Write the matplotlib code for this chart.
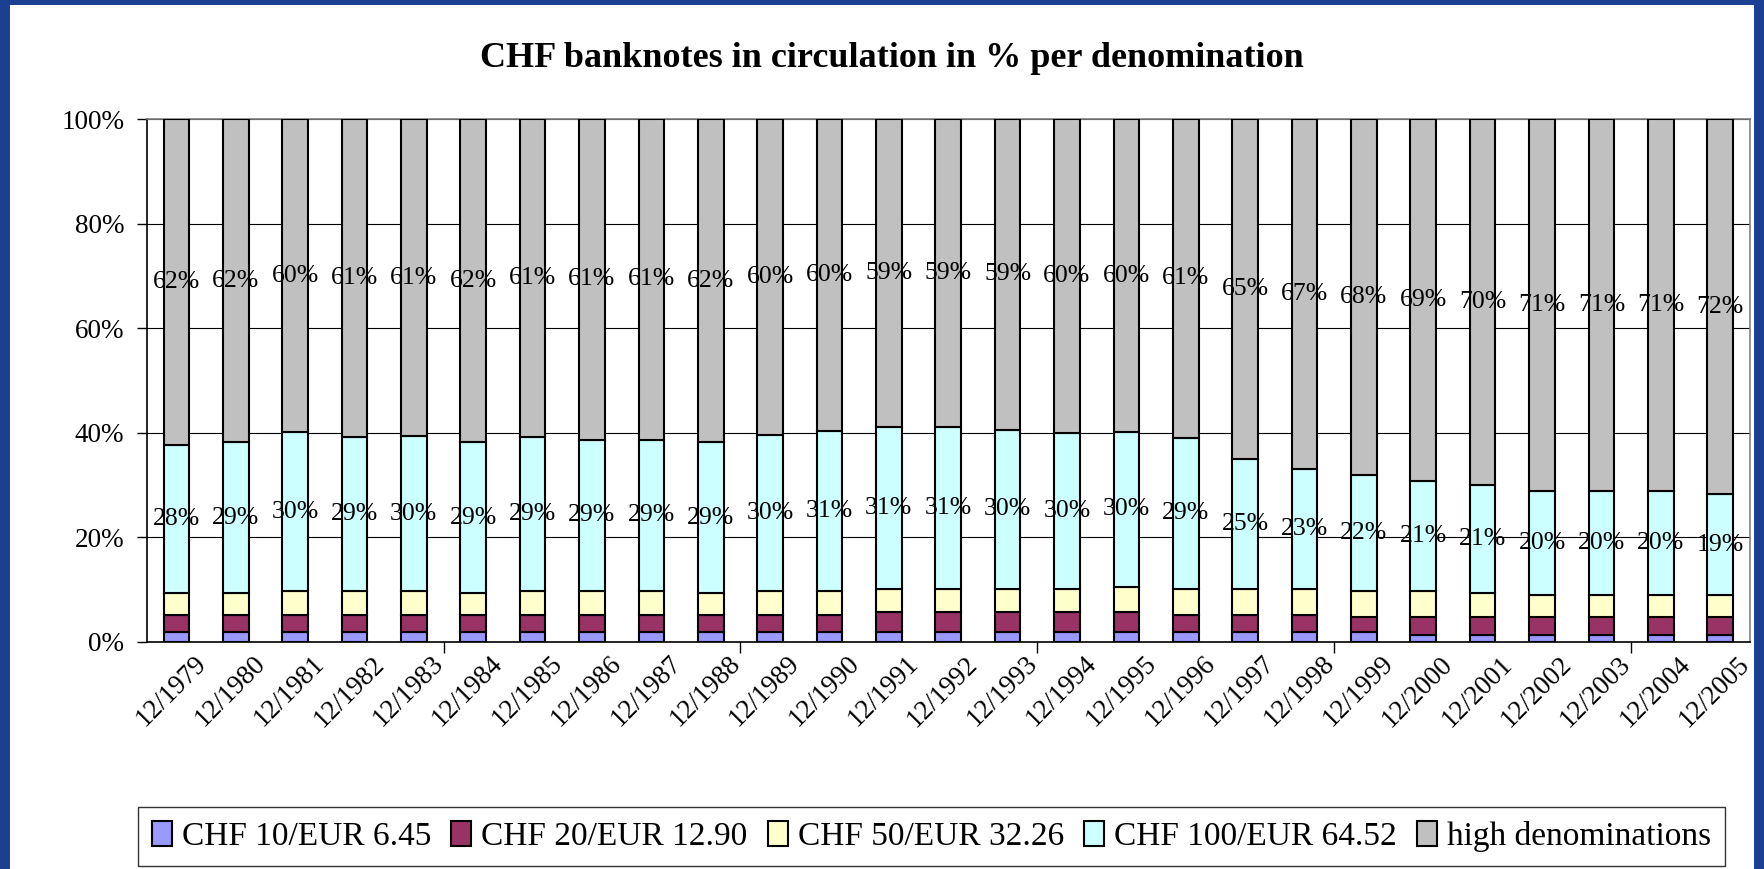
import numpy as np
import matplotlib
matplotlib.use('Agg')
import matplotlib.pyplot as plt
import matplotlib.transforms as mtransforms
from matplotlib.patches import Rectangle

plt.rcParams['font.family'] = ['Liberation Serif', 'DejaVu Serif']

# categories (end of year)
years = ['12/1979', '12/1980', '12/1981', '12/1982', '12/1983', '12/1984', '12/1985',
         '12/1986', '12/1987', '12/1988', '12/1989', '12/1990', '12/1991', '12/1992',
         '12/1993', '12/1994', '12/1995', '12/1996', '12/1997', '12/1998', '12/1999',
         '12/2000', '12/2001', '12/2002', '12/2003', '12/2004', '12/2005']

# share in % per denomination
chf10 = [1.8, 1.8, 1.8, 1.8, 1.8, 1.8, 1.8, 1.8, 1.8, 1.8, 1.8, 1.8, 1.8, 1.8,
         1.8, 1.8, 1.8, 1.8, 1.8, 1.8, 1.8, 1.3, 1.3, 1.3, 1.3, 1.3, 1.3]
chf20 = [3.25, 3.25, 3.25, 3.25, 3.25, 3.25, 3.25, 3.25, 3.25, 3.25, 3.25, 3.25, 3.8, 3.8,
         3.8, 3.8, 3.8, 3.35, 3.25, 3.25, 2.85, 3.35, 3.35, 3.35, 3.35, 3.35, 3.35]
chf50 = [4.2, 4.2, 4.65, 4.65, 4.65, 4.2, 4.65, 4.65, 4.65, 4.2, 4.65, 4.65, 4.55, 4.55,
         4.55, 4.55, 4.9, 5.0, 5.1, 5.1, 5.05, 5.05, 4.65, 4.25, 4.25, 4.25, 4.25]
chf100 = [28.4, 28.95, 30.35, 29.4, 29.6, 28.95, 29.4, 28.9, 28.9, 28.95, 29.9, 30.6, 30.95, 30.95,
          30.4, 29.85, 29.6, 28.85, 24.85, 22.85, 22.1, 21.0, 20.6, 20.0, 20.0, 20.0, 19.3]
high = [62.35, 61.8, 59.95, 60.9, 60.7, 61.8, 60.9, 61.4, 61.4, 61.8, 60.4, 59.7, 58.9, 58.9,
        59.45, 60.0, 59.9, 61.0, 65.0, 67.0, 68.2, 69.3, 70.1, 71.1, 71.1, 71.1, 71.8]

series = [
    ('CHF 10/EUR 6.45', chf10, '#9999FF', False),
    ('CHF 20/EUR 12.90', chf20, '#993366', False),
    ('CHF 50/EUR 32.26', chf50, '#FFFFCC', False),
    ('CHF 100/EUR 64.52', chf100, '#CCFFFF', True),
    ('high denominations', high, '#C0C0C0', True),
]

# 100% stacked -> normalise every column
totals = np.sum([np.array(s[1]) for s in series], axis=0)

fig = plt.figure(figsize=(17.65, 8.69), dpi=100)
fig.patch.set_facecolor('#1b3f93')
# white slide panel
fig.patches.append(Rectangle((10 / 1765, 0), 1744 / 1765, 864 / 869,
                             transform=fig.transFigure, facecolor='white',
                             edgecolor='none', zorder=-10))

ax = fig.add_axes([0.0831, 0.2616, 0.9083, 0.6014])
ax.set_facecolor('white')

x = np.arange(len(years))
bottom = np.zeros(len(years))
for name, vals, color, show in series:
    pct = np.array(vals) / totals * 100
    ax.bar(x, pct, 0.43, bottom=bottom, color=color, edgecolor='black',
           linewidth=1.5, label=name, zorder=3)
    if show:
        for xi, b, p in zip(x, bottom, pct):
            ax.text(xi, b + p / 2, f'{p:.0f}%', ha='center', va='center',
                    fontsize=18.5, zorder=4)
    bottom += pct

ax.set_ylim(0, 100)
ax.set_xlim(-0.5, len(years) - 0.5)
ax.set_yticks([0, 20, 40, 60, 80, 100])
ax.set_yticklabels(['0%', '20%', '40%', '60%', '80%', '100%'], fontsize=19.5)
ax.yaxis.grid(True, color='black', linewidth=0.8, zorder=0)
ax.set_axisbelow(True)
ax.tick_params(axis='y', direction='out', length=7, width=1, pad=9)

ax.set_xticks(x)
ax.set_xticklabels(years, rotation=45, ha='right', rotation_mode='anchor', fontsize=19.5)
ax.tick_params(axis='x', which='major', length=0, pad=7)
# Excel puts the end of the rotated label a bit right of the category centre
shift = mtransforms.ScaledTranslation(0.17, 0, fig.dpi_scale_trans)
for lbl in ax.get_xticklabels():
    lbl.set_transform(lbl.get_transform() + shift)
ax.set_xticks([4.5, 9.5, 14.5, 19.5, 24.5], minor=True)
ax.tick_params(axis='x', which='minor', direction='out', length=8, width=1)

for side in ['left', 'bottom']:
    ax.spines[side].set_color('black')
    ax.spines[side].set_linewidth(1.2)
for side in ['top', 'right']:
    ax.spines[side].set_color('#808080')
    ax.spines[side].set_linewidth(1.2)

fig.text(0.5055, 0.933, 'CHF banknotes in circulation in % per denomination',
         ha='center', va='center', fontsize=26, fontweight='bold')

leg = fig.legend(loc='center', bbox_to_anchor=(0.5277, 0.0374), ncol=5, fontsize=24,
                 frameon=True, fancybox=False, edgecolor='black', handlelength=0.6,
                 handleheight=0.8, handletextpad=0.3, columnspacing=0.6, borderpad=0.42)
leg.get_frame().set_linewidth(1.0)
for h in leg.legend_handles:
    h.set_linewidth(1.5)

fig.savefig('out.png', dpi=100, facecolor=fig.get_facecolor())
